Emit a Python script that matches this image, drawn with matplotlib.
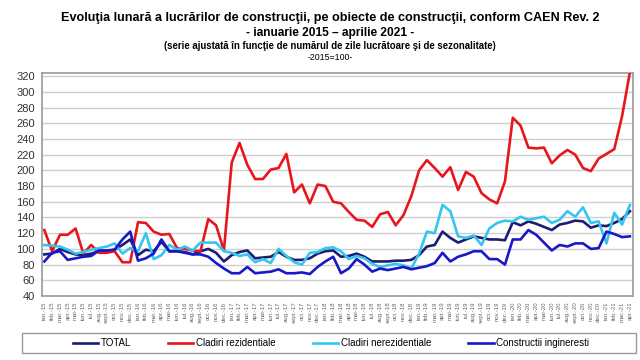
import matplotlib
matplotlib.use("Agg")
import matplotlib.pyplot as plt
from matplotlib.patches import Rectangle
import numpy as np

plt.rcParams['font.family'] = ['Liberation Sans', 'DejaVu Sans']

# luni: ian. 2015 - apr. 2021
luni = ['ian.', 'feb.', 'mar.', 'apr.', 'mai', 'iun.', 'iul.', 'aug.', 'sept.', 'oct.', 'nov.', 'dec.']
ani = ['15', '16', '17', '18', '19', '20', '21']
etichete = [f"{l}-{a}" for a in ani for l in luni][:76]

total = [93, 94, 100, 96, 93, 92, 94, 97, 97, 99, 105, 112,
         92, 99, 97, 109, 97, 97, 96, 93, 97, 100, 95, 84,
         92, 96, 98, 88, 89, 90, 96, 90, 86, 86, 88, 94,
         97, 98, 90, 91, 94, 90, 84, 84, 84, 85, 85, 86,
         92, 103, 105, 122, 114, 108, 112, 116, 114, 112, 112, 111,
         134, 130, 135, 132, 128, 124, 131, 133, 136, 135, 127, 130,
         129, 133, 138, 148]

rezidentiale = [124, 97, 118, 118, 126, 94, 105, 95, 95, 97, 83, 83,
                134, 133, 122, 118, 119, 101, 100, 98, 97, 138, 130, 98,
                210, 235, 207, 189, 189, 201, 203, 221, 172, 182, 158, 182,
                180, 160, 158, 147, 137, 136, 128, 144, 147, 130, 143, 167,
                200, 213, 203, 192, 204, 175, 198, 192, 171, 163, 158, 186,
                267, 257, 229, 228, 229, 209, 219, 226, 220, 203, 199, 215,
                221, 227, 269, 325]

nerezidentiale = [105, 104, 103, 99, 94, 96, 99, 101, 103, 107, 94, 101,
                  97, 120, 87, 92, 105, 99, 103, 98, 108, 108, 108, 97,
                  95, 91, 93, 83, 87, 82, 100, 91, 83, 80, 95, 96,
                  101, 102, 97, 87, 91, 88, 81, 77, 79, 81, 79, 75,
                  94, 122, 120, 156, 148, 116, 114, 117, 105, 126, 133, 136,
                  135, 141, 137, 139, 141, 133, 137, 148, 141, 153, 133, 135,
                  107, 146, 131, 156]

ingineresti = [84, 95, 97, 86, 88, 90, 91, 98, 98, 99, 112, 122,
               85, 88, 94, 112, 97, 97, 95, 93, 93, 90, 82, 75,
               69, 69, 77, 69, 70, 71, 74, 69, 69, 70, 68, 77,
               84, 90, 69, 75, 87, 80, 71, 75, 73, 75, 77, 74,
               76, 78, 82, 95, 84, 90, 93, 97, 97, 87, 87, 80,
               112, 112, 124, 118, 108, 98, 105, 103, 107, 107, 100, 101,
               122, 119, 115, 116]

x = np.arange(len(etichete))

fig = plt.figure(figsize=(6.4, 3.6), dpi=100)
ax = fig.add_axes([42 / 640, 1 - 296 / 360, 591 / 640, 223 / 360])

lw = 1.9
ax.plot(x, total, color='#1c1c72', lw=lw, label='TOTAL', zorder=3)
ax.plot(x, rezidentiale, color='#e8161c', lw=lw, label='Cladiri rezidentiale', zorder=3)
ax.plot(x, nerezidentiale, color='#33c6ef', lw=lw, label='Cladiri nerezidentiale', zorder=3)
ax.plot(x, ingineresti, color='#1818c8', lw=lw, label='Constructii ingineresti', zorder=3)

ax.set_ylim(40, 324)
ax.set_xlim(-0.3, len(x) - 0.6)
ax.set_yticks(range(40, 321, 20))
ax.yaxis.grid(True, color='#cfcfcf', lw=1)
ax.set_axisbelow(True)
ax.tick_params(axis='y', length=0, labelsize=8, colors='#333333', pad=5)
ax.set_xticks(x)
ax.set_xticklabels(etichete, rotation=90, fontsize=4.3, color='#666666')
ax.tick_params(axis='x', length=0, pad=4)
for s in ax.spines.values():
    s.set_color('#9a9a9a')
    s.set_linewidth(1.2)

# titlu - primele trei randuri potrivite la latimea din original
cx = 330 / 640
randuri = [('Evoluţia lunară a lucrărilor de construcţii, pe obiecte de construcţii, conform CAEN Rev. 2', 18, 536),
           ('- ianuarie 2015 – aprilie 2021 -', 33, 167),
           ('(serie ajustată în funcţie de numărul de zile lucrătoare şi de sezonalitate)', 46, 333)]
r = fig.canvas.get_renderer()
for txt, yp, w in randuri:
    t = fig.text(cx, 1 - yp / 360, txt, ha='center', va='center', fontsize=10, fontweight='bold')
    lat = t.get_window_extent(renderer=r).width
    t.set_fontsize(10 * w / lat)
fig.text(cx, 1 - 58 / 360, '-2015=100-', ha='center', va='center', fontsize=6.3)

leg = fig.legend(loc='center', bbox_to_anchor=(331 / 640, 1 - 343 / 360),
                 ncol=4, fontsize=7, frameon=False,
                 handlelength=2.6, handletextpad=0.3, columnspacing=3.8)
fig.add_artist(Rectangle((22 / 640, 1 - 353 / 360), 614 / 640, 20 / 360,
                         transform=fig.transFigure, fill=False, edgecolor='#9a9a9a', lw=1.0))

fig.savefig('out.png', dpi=100)
